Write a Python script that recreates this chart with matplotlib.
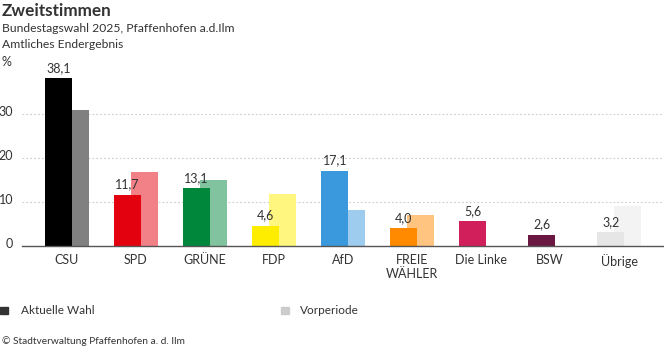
import matplotlib
matplotlib.use("Agg")
import matplotlib.pyplot as plt
import matplotlib.transforms as mtransforms
from matplotlib.colors import to_rgb
import numpy as np

plt.rcParams['font.family'] = ['Lato', 'DejaVu Sans']

# ---- data ----
parties = ["CSU", "SPD", "GRÜNE", "FDP", "AfD", "FREIE\nWÄHLER", "Die Linke", "BSW", "Übrige"]
current = [38.1, 11.7, 13.1, 4.6, 17.1, 4.0, 5.6, 2.6, 3.2]
current_labels = ["38,1", "11,7", "13,1", "4,6", "17,1", "4,0", "5,6", "2,6", "3,2"]
previous = [30.9, 16.8, 15.0, 11.8, 8.2, 7.0, None, None, 9.1]
colors = ["#000000", "#e3000f", "#00873c", "#ffed00", "#3a98dc", "#ff8a00", "#d11f5b", "#6a1842", "#e6e6e6"]
yticks = [0, 10, 20, 30]
ytick_labels = ["0", "10", "20", "30"]

title = "Zweitstimmen"
subtitle1 = "Bundestagswahl 2025, Pfaffenhofen a.d.Ilm"
subtitle2 = "Amtliches Endergebnis"
legend_labels = ["Aktuelle Wahl", "Vorperiode"]
source = "© Stadtverwaltung Pfaffenhofen a. d. Ilm"

TXT = "#333333"

def lighten(c, a=0.5):
    r, g, b = to_rgb(c)
    return (1 - a * (1 - r), 1 - a * (1 - g), 1 - a * (1 - b))

fig = plt.figure(figsize=(6.64, 3.52), dpi=100)
W, H = 664, 352
ax = fig.add_axes([22 / W, 1 - 246 / H, (664 - 22) / W, 176 / H])

x = np.arange(len(parties))
bw = 0.39
off = 0.12

prev_colors = [lighten(c) for c in colors]
prev_colors[-1] = "#f3f3f3"
for i, p in enumerate(previous):
    if p is not None:
        ax.bar(x[i] + off, p, width=bw, color=prev_colors[i], zorder=2, linewidth=0)
ax.bar(x - off, current, width=bw, color=colors, zorder=3, linewidth=0)

for i, (v, lab) in enumerate(zip(current, current_labels)):
    ax.annotate(lab, (x[i] - off, v), xytext=(0, 3), textcoords="offset points",
                ha="center", va="bottom", fontsize=9, color=TXT, zorder=5)

ax.set_xlim(-0.652, len(parties) - 1 + 0.652)
ax.set_ylim(0, 40)
ax.set_yticks(yticks)
ax.set_yticklabels(ytick_labels)
ax.set_xticks(x)
ax.set_xticklabels(parties, fontsize=9, color=TXT, linespacing=1.2)
ax.tick_params(axis="x", length=0, pad=6)
ax.tick_params(axis="y", length=0, pad=6.5, labelsize=9, labelcolor=TXT)
shift = mtransforms.ScaledTranslation(0, 3.5 / 100, fig.dpi_scale_trans)
for lab in ax.get_yticklabels():
    lab.set_transform(lab.get_transform() + shift)

for y in yticks[1:]:
    ax.axhline(y, color="#cccccc", linewidth=0.8, linestyle=(0, (1.5, 2)), zorder=1)

for s in ["top", "right", "left"]:
    ax.spines[s].set_visible(False)
ax.spines["bottom"].set_color("#555555")
ax.spines["bottom"].set_linewidth(1.0)
ax.spines["bottom"].set_zorder(4)

fig.text(2 / W, 1 - 62 / H, "%", fontsize=9, color=TXT, va="center", ha="left")

fig.text(2 / W, 1 - 11 / H, title, fontsize=12.3, fontweight="bold", color=TXT, va="center", ha="left")
fig.text(2 / W, 1 - 29 / H, subtitle1, fontsize=8.7, color=TXT, va="center", ha="left")
fig.text(2 / W, 1 - 44 / H, subtitle2, fontsize=8.7, color=TXT, va="center", ha="left")

# legend
fig.patches.append(plt.Rectangle((0, 1 - 314 / H), 8 / W, 7 / H, transform=fig.transFigure,
                                 color="#333333", figure=fig))
fig.text(21 / W, 1 - 311 / H, legend_labels[0], fontsize=8.5, color=TXT, va="center", ha="left")
fig.patches.append(plt.Rectangle((281 / W, 1 - 314 / H), 8 / W, 7 / H, transform=fig.transFigure,
                                 color="#cccccc", figure=fig))
fig.text(300 / W, 1 - 311 / H, legend_labels[1], fontsize=8.5, color=TXT, va="center", ha="left")

fig.text(2 / W, 1 - 341 / H, source, fontsize=7.3, color=TXT, va="center", ha="left")

fig.savefig("out.png", dpi=100)
